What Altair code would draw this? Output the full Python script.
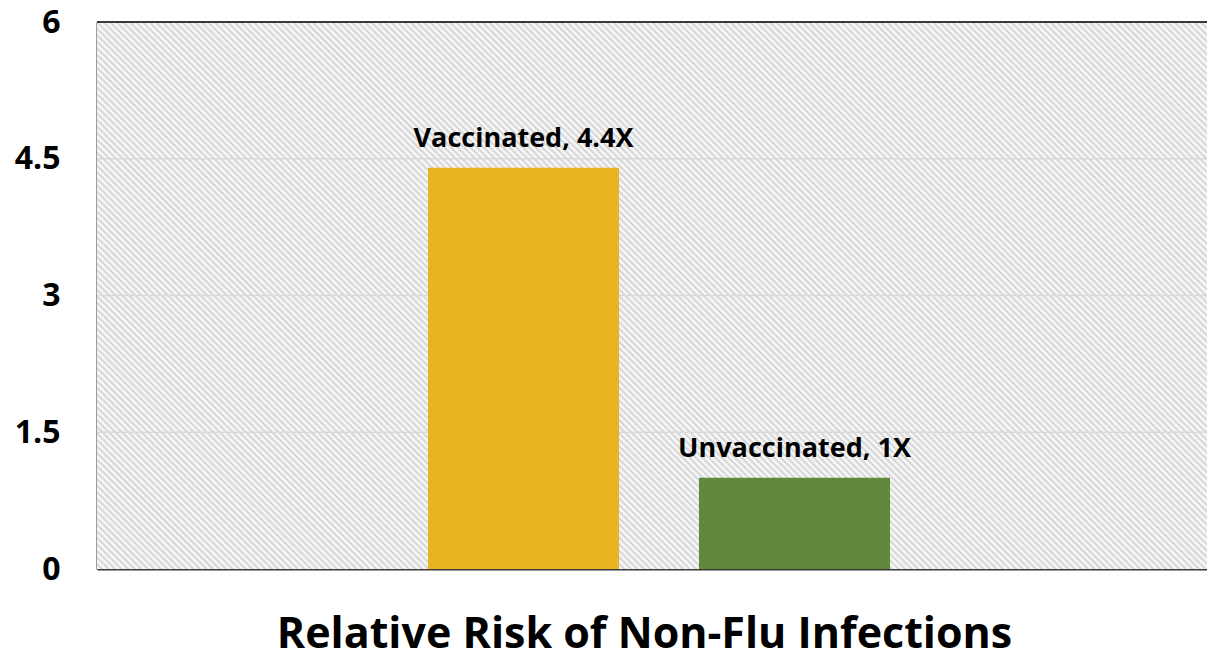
import altair as alt
import pandas as pd

# ---- data ----
series = ["Vaccinated", "Unvaccinated"]
values = [4.4, 1.0]
labels = ["Vaccinated, 4.4X", "Unvaccinated, 1X"]
category = "Relative Risk of Non-Flu Infections"
y_ticks = [0, 1.5, 3, 4.5, 6]
grid_vals = [1.5, 3, 4.5]
colors = ["#EAB320", "#62883D"]

df = pd.DataFrame({"cat": [category] * len(series), "series": series,
                   "value": values, "label": labels})
grid_df = pd.DataFrame({"g": grid_vals})

W, H = 1110, 547
FONT = "Open Sans"

y_scale = alt.Scale(domain=[0, 6], nice=False, zero=True)

# hatch background via repeating linear gradient on a square clipped rect
N = 340
stops = []
for k in range(N):
    stops.append({"offset": k / N, "color": "#d2d2d2"})
    stops.append({"offset": (k + 0.5) / N, "color": "#ffffff"})
stops.append({"offset": 1.0, "color": "#d2d2d2"})
hatch_fill = {"gradient": "linear", "x1": 0, "y1": 1, "x2": 1, "y2": 0, "stops": stops}

hatch = alt.Chart(df).mark_rect(fill=hatch_fill, clip=True, strokeWidth=0).encode(
    x=alt.value(0), x2=alt.value(W), y=alt.value(0), y2=alt.value(W)
)

grid = alt.Chart(grid_df).mark_rule(color="#d9d9d9", strokeWidth=1.5).encode(
    y=alt.Y("g:Q", scale=y_scale)
)

x_enc = alt.X(
    "cat:N",
    scale=alt.Scale(paddingInner=0, paddingOuter=0.7013, align=0.5108),
    axis=alt.Axis(
        labels=False, ticks=False, domain=True, domainColor="#3a3a3a", domainWidth=2,
        title=category, titleFont=FONT, titleFontSize=43, titleFontWeight="bold",
        titleColor="#000000", titleBaseline="alphabetic", titlePadding=78, titleX=547,
    ),
)
xo_enc = alt.XOffset("series:N", sort=series,
                     scale=alt.Scale(paddingInner=0.295, paddingOuter=0))

bars = alt.Chart(df).mark_bar().encode(
    x=x_enc,
    xOffset=xo_enc,
    y=alt.Y(
        "value:Q", scale=y_scale,
        axis=alt.Axis(
            values=y_ticks, labelExpr="'' + datum.value", grid=False, ticks=False,
            domain=True, domainColor="#3a3a3a", domainWidth=2, title=None,
            labelFont=FONT, labelFontSize=32, labelFontWeight="bold",
            labelColor="#000000", labelPadding=37,
        ),
    ),
    color=alt.Color("series:N", sort=series,
                    scale=alt.Scale(domain=series, range=colors), legend=None),
)

text = alt.Chart(df).mark_text(
    font=FONT, fontSize=27, fontWeight="bold", color="#000000",
    baseline="alphabetic", align="center", dy=-21,
).encode(
    x=alt.X("cat:N"), xOffset=alt.XOffset("series:N", sort=series),
    y=alt.Y("value:Q", scale=y_scale), text="label:N",
)

top = alt.Chart(df).mark_rule(color="#3a3a3a", strokeWidth=2).encode(y=alt.datum(6))

chart = alt.layer(hatch, grid, bars, text, top).properties(
    width=W, height=H,
    autosize=alt.AutoSizeParams(type="none"),
    padding={"left": 89, "top": 14, "right": 0, "bottom": 90},
).configure_view(stroke=None)

chart.save("out.html", embed_options={"renderer": "svg", "actions": False})
